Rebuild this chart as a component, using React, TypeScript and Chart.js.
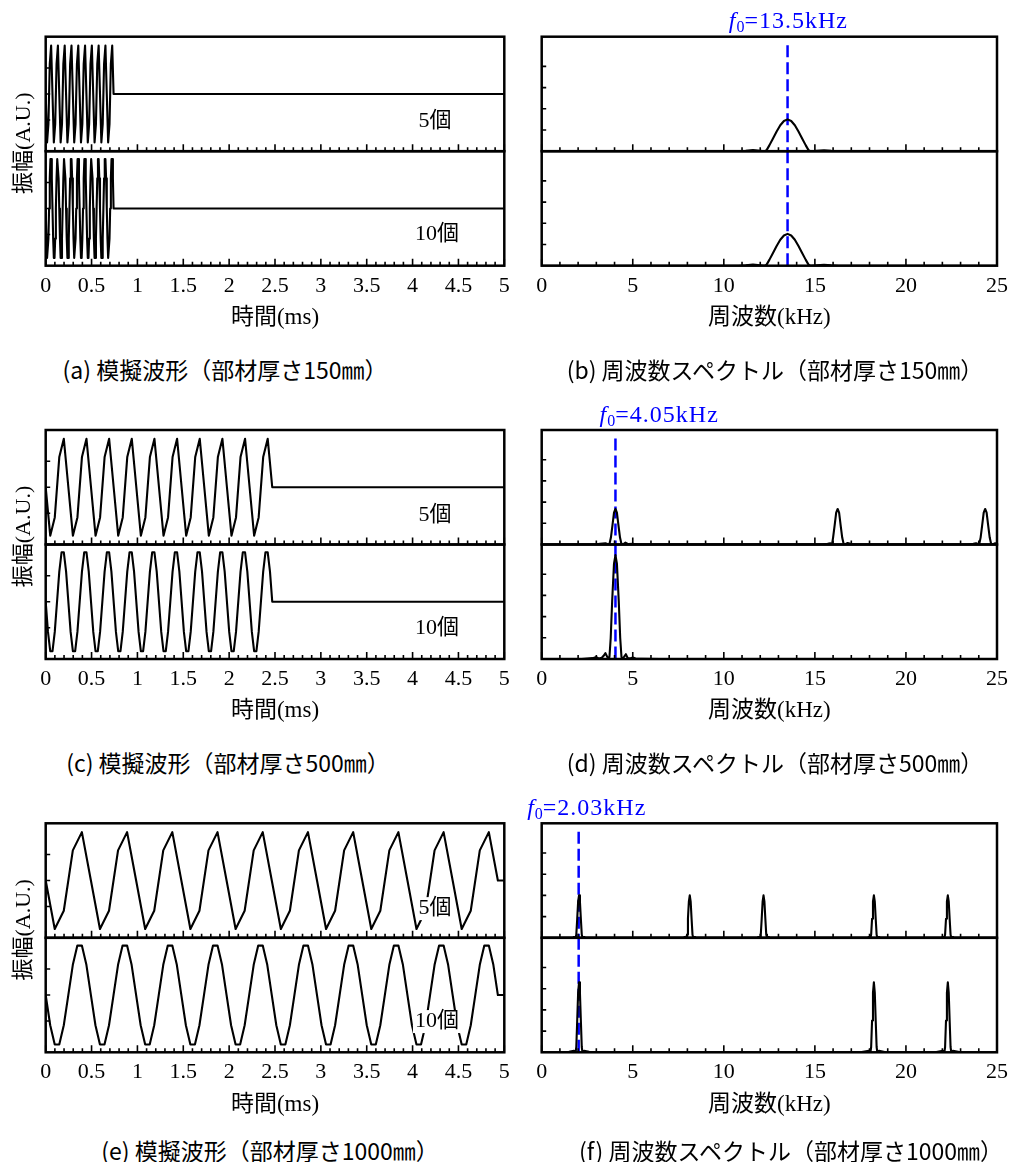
import React, { useEffect, useRef } from "react";
import { Chart, registerables } from "chart.js";

Chart.register(...registerables);

const SERIF = '"Liberation Serif", "Noto Sans CJK JP", serif';
const GOTHIC = '"Noto Sans CJK JP", "Noto Sans", sans-serif';

// ================= axes & texts =================
const TIME_RANGE = [0, 5];
const TIME_TICK_STEP = 0.1;
const TIME_LABEL_STEP = 0.5;
const FREQ_RANGE = [0, 25];
const FREQ_TICK_STEP = 1;
const FREQ_LABEL_STEP = 5;
const WAVE_Y_RANGE = [-1.1, 1.1];
const WAVE_Y_TICK_STEP = 0.5;
const SPEC_Y_RANGE = [0, 1.08];
const SPEC_Y_TICK_STEP = 0.2;

const TIME_TITLE = "時間(ms)";
const FREQ_TITLE = "周波数(kHz)";
const AMP_TITLE = "振幅(A.U.)";
const SERIES_TAGS = ["5個", "10個"];
const SERIES_TAG_POS = [
  { x: 4.245, y: -0.53 },
  { x: 4.266, y: -0.5 },
];

const CAPTIONS_LEFT = [
  "(a) 模擬波形（部材厚さ150㎜）",
  "(c) 模擬波形（部材厚さ500㎜）",
  "(e) 模擬波形（部材厚さ1000㎜）",
];
const CAPTIONS_RIGHT = [
  "(b) 周波数スペクトル（部材厚さ150㎜）",
  "(d) 周波数スペクトル（部材厚さ500㎜）",
  "(f) 周波数スペクトル（部材厚さ1000㎜）",
];

// ================= waveforms (sampled burst) =================
// upper sub-panel: 5 samples per cycle, 10 cycles
const WAVE_UPPER = [
  0, -0.93, -0.58, 0.58, 0.93,
  0, -0.93, -0.58, 0.58, 0.93,
  0, -0.93, -0.58, 0.58, 0.93,
  0, -0.93, -0.58, 0.58, 0.93,
  0, -0.93, -0.58, 0.58, 0.93,
  0, -0.93, -0.58, 0.58, 0.93,
  0, -0.93, -0.58, 0.58, 0.93,
  0, -0.93, -0.58, 0.58, 0.93,
  0, -0.93, -0.58, 0.58, 0.93,
  0, -0.93, -0.58, 0.58, 0.93,
  0,
];
// lower sub-panel: 10 samples per cycle, 10 cycles
const WAVE_LOWER = [
  0, -0.58, -0.95, -0.95, -0.58, 0, 0.58, 0.95, 0.95, 0.58,
  0, -0.58, -0.95, -0.95, -0.58, 0, 0.58, 0.95, 0.95, 0.58,
  0, -0.58, -0.95, -0.95, -0.58, 0, 0.58, 0.95, 0.95, 0.58,
  0, -0.58, -0.95, -0.95, -0.58, 0, 0.58, 0.95, 0.95, 0.58,
  0, -0.58, -0.95, -0.95, -0.58, 0, 0.58, 0.95, 0.95, 0.58,
  0, -0.58, -0.95, -0.95, -0.58, 0, 0.58, 0.95, 0.95, 0.58,
  0, -0.58, -0.95, -0.95, -0.58, 0, 0.58, 0.95, 0.95, 0.58,
  0, -0.58, -0.95, -0.95, -0.58, 0, 0.58, 0.95, 0.95, 0.58,
  0, -0.58, -0.95, -0.95, -0.58, 0, 0.58, 0.95, 0.95, 0.58,
  0, -0.58, -0.95, -0.95, -0.58, 0, 0.58, 0.95, 0.95, 0.58,
  0,
];
const WAVE_REST_VALUE = 0;
// sample interval in ms for [upper, lower] of rows (a), (c), (e)
const WAVE_SAMPLE_INTERVALS = [
  [0.0148, 0.0074],
  [0.0494, 0.0247],
  [0.0986, 0.0493],
];

// ================= spectra ([kHz, amplitude]) =================
const SPEC_B_UPPER = [
  [0, 0], [10.8, 0], [11.2, 0.004], [11.6, 0.01], [12.0, 0.004], [12.25, 0],
  [12.35, 0.01], [12.5, 0.055], [12.7, 0.12], [12.9, 0.185], [13.1, 0.245], [13.3, 0.285],
  [13.5, 0.3], [13.7, 0.285], [13.9, 0.245], [14.1, 0.185], [14.3, 0.12], [14.5, 0.055],
  [14.65, 0.01], [14.75, 0], [15.1, 0.004], [15.5, 0.009], [15.9, 0.003], [16.3, 0], [25, 0],
];
const SPEC_B_LOWER = [
  [0, 0], [10.8, 0], [11.2, 0.004], [11.6, 0.01], [12.0, 0.004], [12.25, 0],
  [12.35, 0.01], [12.5, 0.055], [12.7, 0.12], [12.9, 0.185], [13.1, 0.245], [13.3, 0.285],
  [13.5, 0.3], [13.7, 0.285], [13.9, 0.245], [14.1, 0.185], [14.3, 0.12], [14.5, 0.055],
  [14.65, 0.01], [14.75, 0], [15.1, 0.004], [15.5, 0.009], [15.9, 0.003], [16.3, 0], [25, 0],
];
const SPEC_D_UPPER = [
  [0, 0], [2.9, 0], [3.2, 0.006], [3.5, 0.012], [3.67, 0],
  [3.72, 0.005], [3.8, 0.065], [3.885, 0.18], [3.97, 0.3], [4.05, 0.335], [4.13, 0.3],
  [4.215, 0.18], [4.3, 0.065], [4.38, 0.005], [4.45, 0], [4.6, 0.018], [4.75, 0.004],
  [5.0, 0.006], [5.3, 0],
  [15.4, 0], [15.7, 0.006], [15.85, 0.012], [15.94, 0],
  [16.0, 0.065], [16.085, 0.18], [16.17, 0.3], [16.25, 0.335], [16.33, 0.3], [16.415, 0.18],
  [16.5, 0.065], [16.58, 0.005], [16.65, 0], [16.8, 0.014], [17.0, 0.004], [17.3, 0],
  [23.4, 0], [23.7, 0.006], [23.85, 0.012], [24.02, 0],
  [24.1, 0.065], [24.185, 0.18], [24.27, 0.3], [24.35, 0.335], [24.43, 0.3], [24.515, 0.18],
  [24.6, 0.065], [24.68, 0.005], [24.75, 0], [24.9, 0.012], [25, 0.005],
];
const SPEC_D_LOWER = [
  [0, 0], [2.2, 0], [2.5, 0.004], [2.8, 0.008], [3.0, 0.018], [3.15, 0.004], [3.3, 0.012],
  [3.4, 0.03], [3.5, 0.055], [3.6, 0.02], [3.68, 0], [3.72, 0.02], [3.79, 0.2], [3.87, 0.55],
  [3.97, 0.9], [4.05, 0.98], [4.13, 0.9], [4.23, 0.55], [4.31, 0.2], [4.38, 0.02], [4.42, 0],
  [4.52, 0.02], [4.62, 0.045], [4.72, 0.01], [4.85, 0.005], [5.0, 0.015], [5.15, 0.004],
  [5.5, 0.002], [6.5, 0], [25, 0],
];
const SPEC_F_UPPER = [
  [0, 0], [1.7, 0], [1.77, 0.008], [1.86, 0], [1.9, 0.03], [1.95, 0.18], [2.0, 0.34],
  [2.05, 0.4], [2.1, 0.34], [2.15, 0.18], [2.2, 0.03], [2.24, 0], [2.33, 0.008], [2.4, 0],
  [7.78, 0], [7.85, 0.008], [7.94, 0], [7.98, 0.03], [8.03, 0.18], [8.08, 0.34],
  [8.13, 0.4], [8.18, 0.34], [8.23, 0.18], [8.28, 0.03], [8.32, 0], [8.41, 0.008], [8.48, 0],
  [11.83, 0], [11.9, 0.008], [11.99, 0], [12.03, 0.03], [12.08, 0.18], [12.13, 0.34],
  [12.18, 0.4], [12.23, 0.34], [12.28, 0.18], [12.33, 0.03], [12.37, 0], [12.46, 0.008], [12.53, 0],
  [17.89, 0], [17.96, 0.008], [18.05, 0], [18.09, 0.03], [18.14, 0.18], [18.19, 0.34],
  [18.24, 0.4], [18.29, 0.34], [18.34, 0.18], [18.39, 0.03], [18.43, 0], [18.52, 0.008], [18.59, 0],
  [21.95, 0], [22.02, 0.008], [22.11, 0], [22.15, 0.03], [22.2, 0.18], [22.25, 0.34],
  [22.3, 0.4], [22.35, 0.34], [22.4, 0.18], [22.45, 0.03], [22.49, 0], [22.58, 0.008], [22.65, 0],
  [25, 0],
];
const SPEC_F_LOWER = [
  [0, 0], [1.0, 0], [1.5, 0.004], [1.77, 0.015], [1.86, 0], [1.9, 0.05], [1.95, 0.3], [2.0, 0.56],
  [2.05, 0.66], [2.1, 0.56], [2.15, 0.3], [2.2, 0.05], [2.24, 0], [2.33, 0.015], [2.6, 0.004], [3.0, 0],
  [17.5, 0], [17.96, 0.015], [18.05, 0], [18.09, 0.05], [18.14, 0.3], [18.19, 0.56],
  [18.24, 0.66], [18.29, 0.56], [18.34, 0.3], [18.39, 0.05], [18.43, 0], [18.52, 0.015], [18.9, 0],
  [21.6, 0], [22.02, 0.015], [22.11, 0], [22.15, 0.05], [22.2, 0.3], [22.25, 0.56],
  [22.3, 0.66], [22.35, 0.56], [22.4, 0.3], [22.45, 0.05], [22.49, 0], [22.58, 0.015], [23.0, 0],
  [25, 0],
];
const SPECTRA_UPPER = [SPEC_B_UPPER, SPEC_D_UPPER, SPEC_F_UPPER];
const SPECTRA_LOWER = [SPEC_B_LOWER, SPEC_D_LOWER, SPEC_F_LOWER];

const F0_VALUES = [13.5, 4.05, 2.03]; // kHz
const F0_TEXTS = ["=13.5kHz", "=4.05kHz", "=2.03kHz"];
const F0_LINE_TOP = 1.0;

// ================= layout (pixels) =================
const ROW_OFFSETS = [0, 393.3, 786.6];
const PLOT_TOP = 36.7;
const PLOT_BOTTOM = 265.7;
const CANVAS_H = 345;
const X_AXIS_H = 70;
const CELLS = {
  wave: { canvasLeft: 0, canvasWidth: 520, plotLeft: 45.7, plotRight: 504.3 },
  spec: { canvasLeft: 515, canvasWidth: 500, plotLeft: 541.7, plotRight: 1000 },
};
const F0_LABEL_LEFT = [10.27, 3.18, -0.8]; // kHz position of label left edge
const CAPTION_Y = [369, 762, 1150];
const CAPTION_X_LEFT = [225, 228, 270];
const CAPTION_X_RIGHT = [775, 775, 791];

const BLUE = "#0000ff";

function isMultiple(v: number, step: number) {
  const r = v / step;
  return Math.abs(r - Math.round(r)) < 1e-6;
}
function fmt(v: number) {
  return String(Math.round(v * 100) / 100);
}

const decorPlugin = {
  id: "decor",
  afterDatasetsDraw(chart: any, _args: any, o: any) {
    const { ctx, chartArea } = chart;
    const xs = chart.scales.x;
    const ys = [chart.scales.yTop, chart.scales.yBot];
    ctx.save();

    // series tags with white background
    if (o.tags) {
      ctx.font = `22px ${SERIF}`;
      ctx.textAlign = "center";
      ctx.textBaseline = "middle";
      o.tags.forEach((t: any, i: number) => {
        const sc = ys[i];
        const px = xs.getPixelForValue(t.x);
        const py = sc.getPixelForValue(t.y);
        const w = ctx.measureText(t.text).width;
        ctx.fillStyle = "#fff";
        ctx.fillRect(px - w / 2 - 2, py - 11, w + 4, 23);
        ctx.fillStyle = "#000";
        ctx.fillText(t.text, px, py);
      });
    }

    // inward ticks + frames
    ctx.strokeStyle = "#000";
    for (const y of ys) {
      ctx.lineWidth = 1.6;
      ctx.beginPath();
      for (const t of xs.ticks) {
        const px = xs.getPixelForValue(t.value);
        const len = isMultiple(t.value, o.xMajor) ? 7 : 4;
        ctx.moveTo(px, y.bottom);
        ctx.lineTo(px, y.bottom - len);
      }
      for (const t of y.ticks) {
        if (!isMultiple(t.value, o.yStep) || t.value <= y.min + 1e-9) continue;
        const py = y.getPixelForValue(t.value);
        ctx.moveTo(chartArea.left, py);
        ctx.lineTo(chartArea.left + 4.5, py);
      }
      ctx.stroke();
      ctx.lineWidth = 2.5;
      ctx.strokeRect(chartArea.left, y.top, chartArea.right - chartArea.left, y.bottom - y.top);
    }

    // y title
    if (o.yTitle) {
      ctx.save();
      ctx.translate(24, ys[0].bottom - 8);
      ctx.rotate(-Math.PI / 2);
      ctx.font = `22px ${SERIF}`;
      ctx.fillStyle = "#000";
      ctx.textAlign = "center";
      ctx.textBaseline = "middle";
      ctx.fillText(o.yTitle, 0, 0);
      ctx.restore();
    }

    // f0 label
    if (o.f0Text) {
      let x = xs.getPixelForValue(o.f0LabelLeft);
      const py = chartArea.top - 14.7;
      ctx.fillStyle = BLUE;
      ctx.textAlign = "left";
      ctx.textBaseline = "middle";
      ctx.font = `italic 24px ${SERIF}`;
      ctx.fillText("f", x, py);
      x += ctx.measureText("f").width + 1;
      ctx.font = `16px ${SERIF}`;
      ctx.fillText("0", x, py + 6);
      x += ctx.measureText("0").width;
      ctx.font = `24px ${SERIF}`;
      (ctx as any).letterSpacing = "1px";
      ctx.fillText(o.f0Text, x, py);
      (ctx as any).letterSpacing = "0px";
    }
    ctx.restore();
  },
};

function toPoints(pairs: number[][]) {
  return pairs.map(([x, y]) => ({ x, y }));
}

function buildConfig(kind: "wave" | "spec", row: number, pad: any) {
  const isWave = kind === "wave";
  let upper: any[];
  let lower: any[];
  if (isWave) {
    const [dtU, dtL] = WAVE_SAMPLE_INTERVALS[row];
    upper = WAVE_UPPER.map((v, i) => ({ x: i * dtU, y: v })).concat([{ x: TIME_RANGE[1], y: WAVE_REST_VALUE }]);
    lower = WAVE_LOWER.map((v, i) => ({ x: i * dtL, y: v })).concat([{ x: TIME_RANGE[1], y: WAVE_REST_VALUE }]);
  } else {
    upper = toPoints(SPECTRA_UPPER[row]);
    lower = toPoints(SPECTRA_LOWER[row]);
  }
  const line = (data: any[], axis: string) => ({
    data,
    yAxisID: axis,
    borderColor: "#000",
    borderWidth: 2.1,
    borderJoinStyle: "round",
    pointRadius: 0,
    pointHoverRadius: 0,
    tension: 0,
    fill: false,
  });
  const datasets: any[] = [line(upper, "yTop"), line(lower, "yBot")];
  if (!isWave) {
    const f0 = F0_VALUES[row];
    const dash = (data: any[], axis: string) => ({
      data,
      yAxisID: axis,
      borderColor: BLUE,
      borderWidth: 2.5,
      borderDash: [12, 5],
      pointRadius: 0,
      pointHoverRadius: 0,
      fill: false,
    });
    datasets.push(dash([{ x: f0, y: F0_LINE_TOP }, { x: f0, y: 0 }], "yTop"));
    datasets.push(dash([{ x: f0, y: SPEC_Y_RANGE[1] }, { x: f0, y: 0 }], "yBot"));
  }

  const yRange = isWave ? WAVE_Y_RANGE : SPEC_Y_RANGE;
  const yStep = isWave ? WAVE_Y_TICK_STEP : SPEC_Y_TICK_STEP;
  const xRange = isWave ? TIME_RANGE : FREQ_RANGE;
  const xStep = isWave ? TIME_TICK_STEP : FREQ_TICK_STEP;
  const xMajor = isWave ? TIME_LABEL_STEP : FREQ_LABEL_STEP;

  const yAxis = (weight: number) => ({
    type: "linear",
    position: "left",
    stack: "panels",
    stackWeight: 1,
    weight,
    min: yRange[0],
    max: yRange[1],
    ticks: { stepSize: yStep, display: false },
    grid: { display: false, drawTicks: false },
    border: { display: false },
    afterFit: (s: any) => {
      s.width = 0;
    },
  });

  return {
    type: "line",
    data: { datasets },
    plugins: [decorPlugin],
    options: {
      animation: false,
      responsive: false,
      devicePixelRatio: 1,
      layout: { padding: pad },
      events: [],
      plugins: {
        legend: { display: false },
        tooltip: { enabled: false },
        decor: {
          xMajor,
          yStep,
          yTitle: isWave ? AMP_TITLE : null,
          tags: isWave
            ? SERIES_TAGS.map((t, i) => ({ text: t, x: SERIES_TAG_POS[i].x, y: SERIES_TAG_POS[i].y }))
            : null,
          f0Text: isWave ? null : F0_TEXTS[row],
          f0LabelLeft: isWave ? 0 : F0_LABEL_LEFT[row],
        },
      },
      scales: {
        x: {
          type: "linear",
          position: "bottom",
          min: xRange[0],
          max: xRange[1],
          ticks: {
            stepSize: xStep,
            autoSkip: false,
            maxRotation: 0,
            minRotation: 0,
            padding: 7,
            color: "#000",
            font: { family: SERIF, size: 22 },
            callback: (v: any) => (isMultiple(Number(v), xMajor) ? fmt(Number(v)) : ""),
          },
          grid: { display: false, drawTicks: false },
          border: { display: false },
          title: {
            display: true,
            text: isWave ? TIME_TITLE : FREQ_TITLE,
            color: "#000",
            font: { family: SERIF, size: 23 },
            padding: { top: 0, bottom: 4 },
          },
          afterFit: (s: any) => {
            s.height = X_AXIS_H;
          },
        },
        yTop: yAxis(2),
        yBot: yAxis(1),
      },
    },
  };
}

function Panel({ kind, row }: { kind: "wave" | "spec"; row: number }) {
  const ref = useRef<HTMLCanvasElement>(null);
  const cell = CELLS[kind];
  const off = ROW_OFFSETS[row];
  const canvasTop = Math.floor(off);
  useEffect(() => {
    const canvas = ref.current;
    if (!canvas) return;
    const pad = {
      left: cell.plotLeft - cell.canvasLeft,
      right: cell.canvasLeft + cell.canvasWidth - cell.plotRight,
      top: PLOT_TOP + off - canvasTop,
      bottom: CANVAS_H - (PLOT_BOTTOM + off - canvasTop) - X_AXIS_H,
    };
    const chart = new Chart(canvas, buildConfig(kind, row, pad) as any);
    return () => chart.destroy();
  }, [kind, row]);
  return (
    <canvas
      ref={ref}
      width={cell.canvasWidth}
      height={CANVAS_H}
      style={{ position: "absolute", left: cell.canvasLeft, top: canvasTop, width: cell.canvasWidth, height: CANVAS_H }}
    />
  );
}

function Caption({ text, x, y }: { text: string; x: number; y: number }) {
  return (
    <div
      style={{
        position: "absolute",
        left: x,
        top: y,
        transform: "translate(-50%, -50%)",
        whiteSpace: "nowrap",
        fontFamily: GOTHIC,
        fontSize: 23,
        lineHeight: 1,
        color: "#000",
      }}
    >
      {text}
    </div>
  );
}

export default function App() {
  return (
    <div style={{ position: "absolute", left: 0, top: 0, width: 1015, height: 1162, background: "#fff", overflow: "hidden" }}>
      {ROW_OFFSETS.map((_, r) => (
        <React.Fragment key={r}>
          <Panel kind="wave" row={r} />
          <Panel kind="spec" row={r} />
          <Caption text={CAPTIONS_LEFT[r]} x={CAPTION_X_LEFT[r]} y={CAPTION_Y[r]} />
          <Caption text={CAPTIONS_RIGHT[r]} x={CAPTION_X_RIGHT[r]} y={CAPTION_Y[r]} />
        </React.Fragment>
      ))}
    </div>
  );
}
